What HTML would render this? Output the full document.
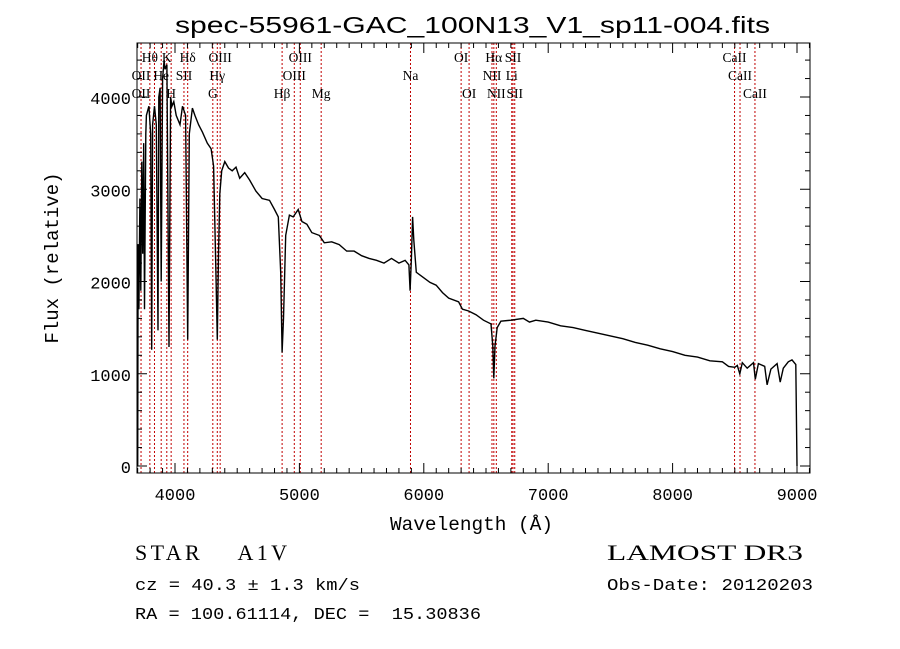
<!DOCTYPE html>
<html><head><meta charset="utf-8"><style>
body{margin:0;background:#fff}
svg{display:block}
text{font-family:"Liberation Sans",sans-serif;fill:#000;white-space:pre}
.m{font-family:"Liberation Mono",monospace}
.s{font-family:"Liberation Serif",serif}
</style></head><body>
<svg id="c" width="900" height="649" viewBox="0 0 900 649" xmlns="http://www.w3.org/2000/svg" xml:space="preserve">
<rect width="900" height="649" fill="#fff"/>
<text x="175" y="33" font-size="23" textLength="595" lengthAdjust="spacingAndGlyphs">spec-55961-GAC_100N13_V1_sp11-004.fits</text>
<text x="390" y="530" font-size="19" class="m" textLength="163" lengthAdjust="spacingAndGlyphs">Wavelength (Å)</text>
<text x="58" y="258" text-anchor="middle" font-size="19" class="m" transform="rotate(-90 58 258)">Flux (relative)</text>
<text x="135" y="560" font-size="22" class="s" textLength="152" lengthAdjust="spacing">STAR    A1V</text>
<text x="607" y="560" font-size="22" class="s" textLength="196" lengthAdjust="spacingAndGlyphs">LAMOST DR3</text>
<text x="135" y="590" font-size="16.5" class="m" textLength="225" lengthAdjust="spacingAndGlyphs">cz = 40.3 ± 1.3 km/s</text>
<text x="607" y="590" font-size="16.5" class="m" textLength="206" lengthAdjust="spacingAndGlyphs">Obs-Date: 20120203</text>
<text x="135" y="619" font-size="16.5" class="m" textLength="346" lengthAdjust="spacingAndGlyphs">RA = 100.61114, DEC =  15.30836</text>
<g id="plot"></g>
</svg>
<script>
const wl=[3700,3703,3710,3718,3725,3733,3740,3748,3755,3765,3770,3790,3805,3813,3820,3835,3850,3863,3870,3880,3889,3900,3912,3920,3935,3952,3965,3975,3990,4010,4040,4060,4085,4102,4115,4140,4160,4190,4220,4260,4290,4310,4330,4340,4350,4360,4375,4400,4430,4460,4490,4520,4560,4600,4650,4700,4760,4800,4830,4850,4861,4872,4890,4920,4950,4990,5020,5060,5100,5160,5200,5260,5320,5380,5440,5500,5560,5620,5680,5740,5800,5850,5880,5890,5900,5910,5920,5940,5990,6050,6100,6150,6200,6280,6310,6360,6420,6480,6540,6555,6563,6572,6590,6620,6700,6800,6850,6900,7000,7100,7200,7300,7400,7500,7600,7700,7800,7900,8000,8100,8200,8300,8400,8450,8500,8520,8540,8560,8600,8650,8665,8690,8740,8760,8790,8840,8865,8890,8930,8960,8990,9000];
const flux=[0,2400,1700,2900,1900,3300,2300,3500,1700,3600,3800,3900,3600,1260,3700,3900,3700,1470,4000,4100,2000,4200,4400,4300,4350,1290,4000,3900,3950,3800,3700,3900,3800,1370,3600,3880,3800,3700,3620,3500,3440,3250,2000,1370,2300,2950,3200,3300,3230,3200,3240,3120,3180,3100,2980,2900,2880,2780,2700,2100,1230,1600,2500,2720,2700,2780,2650,2620,2530,2500,2420,2430,2400,2330,2330,2280,2250,2230,2200,2250,2200,2230,2180,1900,2250,2700,2450,2100,2050,1990,1960,1880,1820,1780,1700,1680,1640,1580,1540,1300,950,1300,1500,1570,1580,1600,1560,1580,1560,1520,1500,1470,1440,1410,1380,1340,1310,1270,1240,1200,1180,1140,1130,1080,1070,1090,1000,1120,1060,1120,940,1110,1080,880,1050,1110,910,1060,1130,1150,1100,0];
const lineWl=[3727,3798,3835,3889,3934,3969,4072,4102,4304,4340,4363,4861,4959,5007,5175,5893,6300,6364,6548,6563,6583,6707,6717,6731,8498,8542,8662];
const labelText=["Hθ","K","Hδ","OIII","OIII","OI","Hα","SII","CaII","OII","He","SII","Hγ","OIII","Na","NII","Li","CaII","OII","H","G","Hβ","Mg","OI","NII","SII","CaII"];
const labelWl=[3798,3934,4102,4363,5007,6300,6563,6717,8498,3727,3889,4072,4340,4959,5893,6548,6707,8542,3727,3969,4304,4861,5175,6364,6583,6731,8662];
const labelRow=[0,0,0,0,0,0,0,0,0,1,1,1,1,1,1,1,1,1,2,2,2,2,2,2,2,2,2];
const xTicks=[4000,5000,6000,7000,8000,9000];
const yTicks=[0,1000,2000,3000,4000];

const L=137,R=810,T=43,B=473;
const X=w=>175+(w-4000)*0.1244;
const Y=f=>466-f*0.09225;
const NS="http://www.w3.org/2000/svg";
const g=document.getElementById('plot');
function mk(t,a){const e=document.createElementNS(NS,t);for(const k in a)e.setAttribute(k,a[k]);g.appendChild(e);return e;}

lineWl.forEach(w=>{
 const e=mk('line',{x1:X(w),x2:X(w),y1:T,y2:B,stroke:'#c00000','stroke-width':1,'stroke-dasharray':'2,2'});
 
 
});
labelText.forEach((t,i)=>{
 const e=mk('text',{x:X(labelWl[i]),y:62+labelRow[i]*18,'text-anchor':'middle','font-size':13.5,'class':'s'});
 e.textContent=t;
 
 
});
let d='';
wl.forEach((w,i)=>{d+=(i?'L':'M')+X(w).toFixed(1)+','+Y(flux[i]).toFixed(1);});
const p=mk('path',{d:d,fill:'none',stroke:'#000','stroke-width':1.4,'stroke-linejoin':'miter'});



const fr=mk('rect',{x:L,y:T,width:R-L,height:B-T,fill:'none',stroke:'#000','stroke-width':1});



for(let w=3700;w<=9100;w+=100){
 const maj=w%1000===0,len=maj?10:5;
 mk('line',{x1:X(w),x2:X(w),y1:B,y2:B-len,stroke:'#000'});
 mk('line',{x1:X(w),x2:X(w),y1:T,y2:T+len,stroke:'#000'});
}
for(let f=0;f<=4500;f+=200){
 const maj=f%1000===0,len=maj?10:5;
 mk('line',{x1:L,x2:L+len,y1:Y(f),y2:Y(f),stroke:'#000'});
 mk('line',{x1:R,x2:R-len,y1:Y(f),y2:Y(f),stroke:'#000'});
}
xTicks.forEach(v=>{
 const e=mk('text',{x:X(v),y:500,'text-anchor':'middle','font-size':17,'class':'m'});
 e.textContent=v;
 
 
});
yTicks.forEach(v=>{
 const e=mk('text',{x:131,y:Y(v)+7,'text-anchor':'end','font-size':17,'class':'m'});
 e.textContent=v;
 
 
});
</script>
</body></html>
